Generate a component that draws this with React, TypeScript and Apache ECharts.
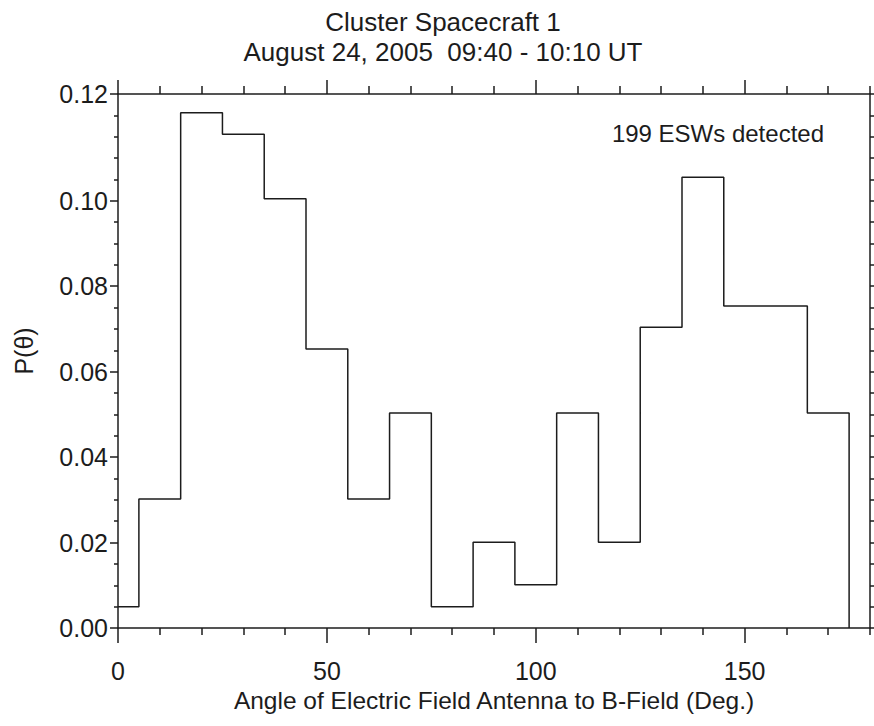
import React, { useEffect, useRef } from "react";
import * as echarts from "echarts";

// Histogram bin edges (degrees) and probabilities P(theta)
const binEdges = [0, 5, 15, 25, 35, 45, 55, 65, 75, 85, 95, 105, 115, 125, 135, 145, 155, 165, 175];
const probabilities = [
  0.0050, 0.0302, 0.1206, 0.1156, 0.1005, 0.0653, 0.0302, 0.0503, 0.0050,
  0.0201, 0.0101, 0.0503, 0.0201, 0.0704, 0.1055, 0.0754, 0.0754, 0.0503,
];

const xMajorTicks = [0, 50, 100, 150];
const xTickLabels = ["0", "50", "100", "150"];
const xMinorTicks = [10, 20, 30, 40, 60, 70, 80, 90, 110, 120, 130, 140, 160, 170, 180];

const yTickValues = [0, 0.02, 0.04, 0.06, 0.08, 0.1, 0.125];
const yTickLabels = ["0.00", "0.02", "0.04", "0.06", "0.08", "0.10", "0.12"];
const yMinorTicks = [
  0.005, 0.01, 0.015, 0.025, 0.03, 0.035, 0.045, 0.05, 0.055, 0.065, 0.07, 0.075,
  0.085, 0.09, 0.095, 0.105, 0.11, 0.115, 0.12,
];
const yAllTicks = [
  0, 0.005, 0.01, 0.015, 0.02, 0.025, 0.03, 0.035, 0.04, 0.045, 0.05, 0.055, 0.06,
  0.065, 0.07, 0.075, 0.08, 0.085, 0.09, 0.095, 0.1, 0.105, 0.11, 0.115, 0.12, 0.125,
];

const titleLines = ["Cluster Spacecraft 1", "August 24, 2005  09:40 - 10:10 UT"];
const annotation = "199 ESWs detected";
const xName = "Angle of Electric Field Antenna to B-Field (Deg.)";
const yName = "P(θ)";

const FONT = "'Liberation Sans', Arial, Helvetica, sans-serif";
const INK = "#1c1c1c";

export default function App() {
  const ref = useRef<HTMLDivElement>(null);

  useEffect(() => {
    if (!ref.current) return;
    const chart = echarts.init(ref.current, null, { renderer: "svg" });

    const stepPoints: number[][] = [];
    for (let i = 0; i < probabilities.length; i++) {
      stepPoints.push([binEdges[i], probabilities[i]]);
      stepPoints.push([binEdges[i + 1], probabilities[i]]);
    }
    stepPoints.push([binEdges[binEdges.length - 1], 0]);

    const lineStyle = { color: INK, width: 1.5 };
    const baseX = { type: "value" as const, min: 0, max: 180, splitLine: { show: false } };
    const baseY = { type: "value" as const, min: 0, max: 0.125, splitLine: { show: false } };

    chart.setOption({
      animation: false,
      backgroundColor: "#ffffff",
      grid: { left: 118, right: 4, top: 94, bottom: 98 },
      graphic: [
        {
          type: "text",
          x: 443,
          y: 22,
          style: { text: titleLines[0], font: `26px ${FONT}`, fill: INK, textAlign: "center", textVerticalAlign: "middle" },
        },
        {
          type: "text",
          x: 443,
          y: 52,
          style: { text: titleLines[1], font: `26px ${FONT}`, fill: INK, textAlign: "center", textVerticalAlign: "middle" },
        },
        {
          type: "text",
          x: 824,
          y: 133,
          style: { text: annotation, font: `24px ${FONT}`, fill: INK, textAlign: "right", textVerticalAlign: "middle" },
        },
        {
          type: "text",
          x: 24,
          y: 351,
          rotation: Math.PI / 2,
          style: { text: yName, font: `25px ${FONT}`, fill: INK, textAlign: "center", textVerticalAlign: "middle" },
        },
      ],
      xAxis: [
        {
          ...baseX,
          position: "bottom",
          axisLine: { show: true, onZero: false, lineStyle },
          axisTick: { show: true, inside: false, length: 7, customValues: xMinorTicks, lineStyle },
          axisLabel: {
            show: true,
            margin: 30,
            customValues: xMajorTicks,
            formatter: (v: number) => xTickLabels[xMajorTicks.indexOf(v)] ?? "",
            color: INK,
            fontSize: 25,
            fontFamily: FONT,
          },
          name: xName,
          nameLocation: "middle",
          nameGap: 58,
          nameTextStyle: { color: INK, fontSize: 24.5, fontFamily: FONT },
        },
        {
          ...baseX,
          position: "bottom",
          axisLine: { show: false, onZero: false },
          axisTick: { show: true, inside: false, length: 15, customValues: xMajorTicks, lineStyle },
          axisLabel: { show: false },
        },
        {
          ...baseX,
          position: "top",
          axisLine: { show: true, onZero: false, lineStyle },
          axisTick: { show: true, inside: false, length: 8, customValues: xMinorTicks, lineStyle },
          axisLabel: { show: false },
        },
        {
          ...baseX,
          position: "top",
          axisLine: { show: false, onZero: false },
          axisTick: { show: true, inside: false, length: 14, customValues: xMajorTicks, lineStyle },
          axisLabel: { show: false },
        },
      ],
      yAxis: [
        {
          ...baseY,
          position: "left",
          axisLine: { show: true, onZero: false, lineStyle },
          axisTick: { show: true, inside: false, length: 4, customValues: yMinorTicks, lineStyle },
          axisLabel: {
            show: true,
            margin: 10,
            customValues: yTickValues,
            formatter: (v: number) => {
              const i = yTickValues.findIndex((t) => Math.abs(t - v) < 1e-9);
              return i >= 0 ? yTickLabels[i] : "";
            },
            color: INK,
            fontSize: 25,
            fontFamily: FONT,
          },
        },
        {
          ...baseY,
          position: "left",
          axisLine: { show: false, onZero: false },
          axisTick: { show: true, inside: false, length: 8, customValues: yTickValues, lineStyle },
          axisLabel: { show: false },
        },
        {
          ...baseY,
          position: "right",
          axisLine: { show: true, onZero: false, lineStyle },
          axisTick: { show: true, inside: false, length: 5, customValues: yAllTicks, lineStyle },
          axisLabel: { show: false },
        },
      ],
      series: [
        {
          type: "line",
          xAxisIndex: 0,
          yAxisIndex: 0,
          data: stepPoints,
          symbol: "none",
          lineStyle: { color: INK, width: 1.5 },
          silent: true,
        },
      ],
    });

    return () => chart.dispose();
  }, []);

  return (
    <div
      ref={ref}
      style={{ position: "fixed", left: 0, top: 0, width: 874, height: 726, background: "#fff" }}
    />
  );
}
